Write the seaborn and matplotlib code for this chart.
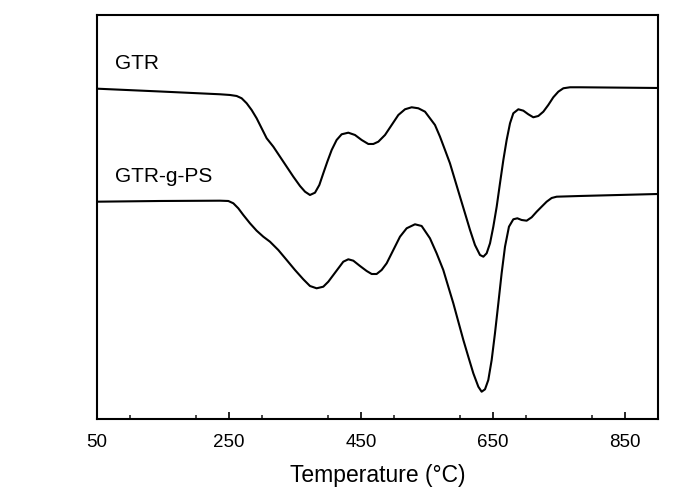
import matplotlib
matplotlib.use("Agg")
import matplotlib.pyplot as plt
import seaborn as sns
import pandas as pd
from matplotlib.ticker import MultipleLocator

# Temperature (°C) and DTG signal (arbitrary units, vertically offset curves)
gtr_temp = [50.0, 145.5, 236.4, 251.5, 261.6, 269.2, 276.8, 284.3, 291.9, 299.5,
            307.1, 317.2, 327.3, 337.4, 347.5, 357.6, 365.2, 372.7, 380.3, 386.9,
            392.9, 399.0, 405.6, 413.1, 420.7, 430.8, 440.9, 451.0, 461.1, 468.7,
            476.3, 486.4, 496.5, 506.6, 516.7, 526.8, 536.9, 547.0, 562.1, 569.7,
            577.3, 584.8, 592.4, 600.0, 607.6, 615.2, 622.7, 630.3, 635.4, 640.4,
            645.5, 650.5, 655.6, 660.6, 665.7, 670.7, 675.8, 680.8, 688.4, 696.0,
            703.5, 711.1, 718.7, 726.3, 733.8, 741.4, 749.0, 756.6, 766.7, 781.8,
            900.0]
gtr_dtg = [330.3, 327.5, 324.7, 324.0, 323.0, 320.7, 315.7, 309.0, 300.7, 290.7,
           280.7, 272.3, 262.3, 252.3, 242.3, 233.0, 227.3, 224.0, 226.3, 234.0,
           245.7, 257.3, 269.0, 279.0, 284.7, 286.3, 284.0, 279.0, 275.0, 275.0,
           277.3, 284.0, 294.0, 304.0, 309.7, 311.7, 310.7, 307.3, 294.0, 282.3,
           269.0, 255.7, 239.0, 222.3, 205.7, 189.0, 174.0, 164.0, 162.3, 165.7,
           175.7, 192.3, 212.3, 235.7, 259.0, 279.0, 295.7, 305.7, 309.7, 308.3,
           304.7, 301.7, 303.0, 307.3, 314.0, 321.7, 327.3, 330.7, 331.7, 331.7,
           331.0]

ps_temp = [50.0, 145.5, 236.4, 249.0, 256.6, 264.1, 271.7, 281.8, 291.9, 302.0,
           312.1, 324.7, 337.4, 350.0, 362.6, 372.7, 382.8, 392.9, 400.5, 408.1,
           415.7, 423.2, 430.8, 438.4, 448.5, 458.6, 466.2, 473.7, 481.3, 488.9,
           499.0, 509.1, 519.2, 531.8, 541.9, 554.5, 564.6, 574.7, 582.3, 589.9,
           597.5, 605.1, 612.6, 620.2, 627.8, 632.8, 637.9, 642.9, 648.0, 653.0,
           658.1, 663.1, 668.2, 674.2, 680.8, 686.9, 693.4, 701.0, 708.6, 716.2,
           723.7, 731.3, 738.9, 746.5, 781.8, 900.0]
ps_dtg = [217.3, 218.0, 218.3, 218.0, 215.7, 210.7, 204.0, 195.7, 188.3, 182.3,
          177.3, 169.0, 159.0, 149.0, 139.7, 133.0, 130.7, 132.3, 137.3, 144.0,
          150.7, 157.3, 159.7, 158.3, 153.0, 148.0, 145.0, 145.0, 149.0, 155.7,
          169.0, 182.3, 190.7, 194.7, 193.0, 180.7, 165.7, 149.0, 132.3, 115.7,
          97.3, 79.0, 62.3, 45.7, 32.3, 27.3, 29.7, 39.0, 59.0, 85.7,
          115.7, 145.7, 172.3, 192.3, 199.7, 200.7, 199.0, 198.3, 201.7, 207.3,
          212.3, 217.3, 221.0, 222.3, 223.0, 225.0]

labels = ["GTR", "GTR-g-PS"]
x_ticks = [50, 250, 450, 650, 850]

sns.set_theme(style="ticks")
plt.rcParams['font.family'] = ['Liberation Sans', 'DejaVu Sans']

df = pd.concat([
    pd.DataFrame({"T": gtr_temp, "DTG": gtr_dtg, "sample": labels[0]}),
    pd.DataFrame({"T": ps_temp, "DTG": ps_dtg, "sample": labels[1]}),
])

fig = plt.figure(figsize=(6.73, 4.99), dpi=100)
ax = fig.add_axes([0.1441, 0.1603, 0.8336, 0.8097])
sns.lineplot(data=df, x="T", y="DTG", units="sample", estimator=None, sort=False,
             color="black", linewidth=1.5, ax=ax, legend=False)

ax.set_xlim(50, 900)
ax.set_ylim(0, 404)
ax.set_xticks(x_ticks)
ax.xaxis.set_minor_locator(MultipleLocator(100))
ax.set_yticks([])
ax.tick_params(axis="x", which="major", direction="in", length=5, width=1.2,
               labelsize=13.5, pad=10.5, colors="black")
ax.tick_params(axis="x", which="minor", direction="in", length=3, width=1.2)
for s in ax.spines.values():
    s.set_visible(True)
    s.set_linewidth(1.5)
    s.set_color("black")
ax.set_xlabel("Temperature (°C)", fontsize=16.5, labelpad=9.5, color="black")
ax.set_ylabel("")

ax.text(77, 355, labels[0], fontsize=15, va="center", ha="left", color="black")
ax.text(77, 242, labels[1], fontsize=15, va="center", ha="left", color="black")

fig.savefig("out.png", dpi=100)
